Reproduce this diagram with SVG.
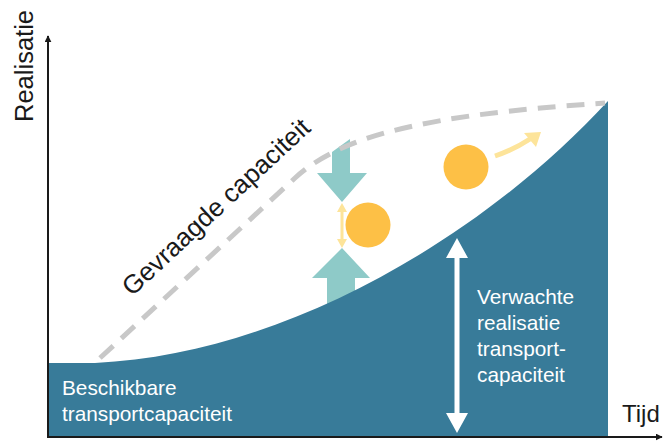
<svg xmlns="http://www.w3.org/2000/svg" width="664" height="441" viewBox="0 0 664 441">
<defs>
<style>
.lbl{font-family:"Liberation Sans",Arial,sans-serif;fill:#1a1a1a}
.wt{font-family:"Liberation Sans",Arial,sans-serif;fill:#ffffff;font-size:20.8px}
.axis{stroke:#1a1a1a;stroke-width:2;fill:none}
.teal{fill:#8ecac8}
.sun{fill:#fdc046}
.pale{fill:#fde49a}
</style>
<marker id="ax" viewBox="0 0 10 10" refX="9" refY="5" markerWidth="7" markerHeight="7" markerUnits="userSpaceOnUse" orient="auto"><path d="M0,0 L10,5 L0,10 Z" fill="#1a1a1a"/></marker>
</defs>
<rect width="664" height="441" fill="#ffffff"/>
<g id="teal-arrows">
<path class="teal" d="M332,152 L350,139 L350,173 L367,173 L342,202 L317,173 L332,173 Z"/>
<path class="teal" d="M342,248 L370,278 L355,278 L355,330 L327,330 L327,278 L312,278 Z"/>
</g>
<g id="realisatie-area">
<path d="M48,363 L95,363 C280,355 480,240 608,101 L608,437 L48,437 Z" fill="#387b99"/>
</g>
<g id="demand-curve">
<path d="M100,358 L295,178 C340,137 420,115 605,103" fill="none" stroke="#c8c8c8" stroke-width="5" stroke-dasharray="18,11"/>
<text class="lbl" font-size="26" transform="translate(132,297) rotate(-42.9)">Gevraagde capaciteit</text>
</g>
<g id="circle-1">
<circle class="sun" cx="368" cy="225" r="22.5"/>
</g>
<g id="circle-2">
<circle class="sun" cx="466" cy="167" r="22.5"/>
</g>
<g id="connectors">
<line x1="48" y1="438" x2="48" y2="36" class="axis" marker-end="url(#ax)"/>
<line x1="48" y1="437" x2="662" y2="437" class="axis" marker-end="url(#ax)"/>
<path d="M342,203 L347,212 L343.5,212 L343.5,239 L347,239 L342,248 L337,239 L340.5,239 L340.5,212 L337,212 Z" class="pale"/>
<path d="M495,156 Q515,149 530,139" fill="none" stroke="#fde49a" stroke-width="5"/>
<path d="M541,132 L536,147 L524,133 Z" class="pale"/>
<path d="M457,238 L468,258 L459.5,258 L459.5,413 L468,413 L457,433 L446,413 L454.5,413 L454.5,258 L446,258 Z" fill="#ffffff"/>
</g>
<g id="labels">
<text class="lbl" font-size="25.5" text-anchor="middle" transform="translate(33,66) rotate(-90)">Realisatie</text>
<text class="lbl" font-size="24" x="622" y="422">Tijd</text>
<text class="wt" x="62" y="395">Beschikbare</text>
<text class="wt" x="62" y="421">transportcapaciteit</text>
<text class="wt" x="477" y="304">Verwachte</text>
<text class="wt" x="477" y="330">realisatie</text>
<text class="wt" x="477" y="356">transport-</text>
<text class="wt" x="477" y="382">capaciteit</text>
</g>
</svg>
